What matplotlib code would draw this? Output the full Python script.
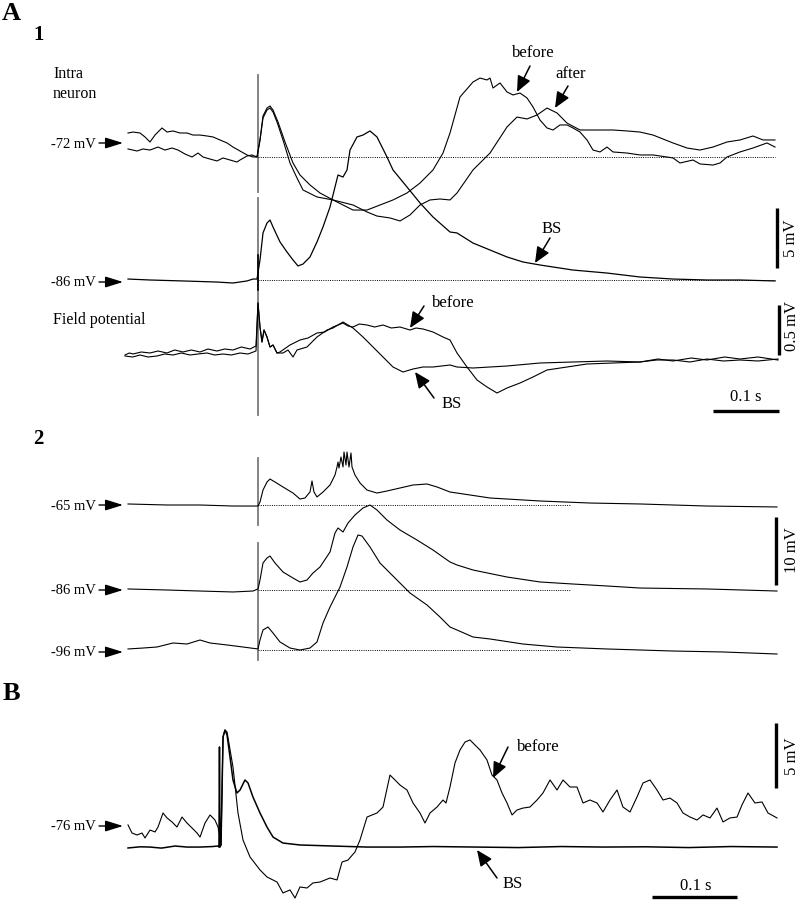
import numpy as np
import matplotlib
matplotlib.use('Agg')
import matplotlib.pyplot as plt

plt.rcParams['font.family'] = ['Liberation Serif', 'DejaVu Serif']

# ---- data: (time ms from stimulus, deflection from resting level) ----
# A1 intracellular, rest -72 mV (mV)
a1_before = [(-195, 0.67), (-181.5, 0.5), (-172.5, 0.67), (-162, 0.58), (-150, 0.83), (-139.5, 0.58),
             (-129, 0.75), (-120, 0.58), (-109.5, 0.25), (-99, 0), (-90, 0.33), (-82.5, 0), (-72, -0.17),
             (-61.5, -0.33), (-52.5, -0.08), (-42, -0.25), (-31.5, -0.42), (-27, -0.25), (-16.5, 0.08),
             (-9, 0.17), (-1.5, 0), (3, 1.42), (7.5, 3.25), (13.5, 3.92), (18, 4.08), (22.5, 3.75),
             (28.5, 2.92), (37.5, 1.42), (48, -0.5), (58.5, -1.75), (67.5, -2.75), (88.5, -3.33),
             (112.5, -3.58), (142.5, -4.42), (163.5, -4.42), (183, -4.0), (202.5, -3.58), (223.5, -3.0),
             (243, -2.17), (262.5, -1.08), (277.5, 0.33), (288, 2.0), (303, 5.0), (322.5, 6.25),
             (333, 6.58), (343.5, 6.42), (348, 6.58), (352.5, 5.75), (363, 6.17), (373.5, 5.42),
             (382.5, 5.17), (393, 5.33), (403.5, 4.92), (412.5, 4.17), (423, 3.08), (433.5, 2.42),
             (442.5, 2.25), (453, 2.67), (463.5, 2.67), (472.5, 2.42), (483, 2.08), (493.5, 1.42),
             (502.5, 0.58), (513, 0.42), (523.5, 0.83), (532.5, 0.42), (553.5, 0.33), (573, 0.17),
             (592.5, 0.17), (613.5, 0), (622.5, -0.08), (633, -0.5), (652.5, -0.25), (663, -0.58),
             (682.5, -0.67), (693, -0.5), (703.5, 0), (723, 0.42), (742.5, 0.75), (763.5, 1.17),
             (775.5, 0.83)]
a1_after = [(-195, 2.0), (-187.5, 2.08), (-177, 2.0), (-169.5, 1.67), (-162, 1.25), (-154.5, 1.83),
            (-144, 2.42), (-136.5, 2.08), (-127.5, 2.17), (-117, 2.0), (-106.5, 2.0), (-97.5, 1.83),
            (-87, 1.83), (-76.5, 1.75), (-67.5, 1.67), (-57, 1.42), (-46.5, 1.17), (-37.5, 0.83),
            (-27, 0.5), (-16.5, 0.17), (-7.5, 0), (-1.5, 0), (3, 1.42), (7.5, 3.42), (13.5, 4.08),
            (18, 4.25), (22.5, 3.92), (30, 2.92), (40.5, 1.25), (52.5, -0.5), (63, -1.5), (78, -2.33),
            (93, -3.0), (112.5, -3.58), (142.5, -4.0), (163.5, -4.58), (178.5, -4.92), (198, -5.08),
            (213, -5.33), (228, -4.83), (243, -4.0), (258, -3.58), (273, -3.5), (288, -3.58),
            (298.5, -3.0), (322.5, -1.08), (348, 0.33), (373.5, 2.5), (388.5, 3.33), (403.5, 3.17),
            (418.5, 3.5), (433.5, 4.08), (448.5, 3.67), (463.5, 2.83), (483, 2.25), (513, 2.25),
            (532.5, 2.25), (553.5, 2.17), (573, 2.08), (592.5, 1.83), (622.5, 1.17), (643.5, 0.75),
            (663, 0.58), (682.5, 0.83), (703.5, 1.25), (723, 1.42), (742.5, 1.75), (757.5, 1.42),
            (775.5, 1.42)]
# A1 intracellular under BS, rest -86 mV
a1_bs = [(-195, 0.08), (-162, 0), (-112.5, -0.08), (-61.5, -0.17), (-37.5, -0.25), (-16.5, -0.08),
         (-7.5, 0.08), (-1.5, 0.08), (3, 1.67), (7.5, 3.92), (13.5, 4.75), (18, 5.0), (22.5, 4.42),
         (33, 3.17), (43.5, 2.33), (52.5, 1.67), (60, 1.17), (67.5, 1.33), (78, 1.92), (88.5, 3.17),
         (97.5, 4.42), (108, 6.08), (115.5, 7.75), (120, 8.75), (127.5, 8.58), (133.5, 9.17),
         (138, 10.83), (148.5, 11.92), (157.5, 12.08), (168, 12.42), (178.5, 11.92), (193.5, 10.25),
         (202.5, 9.17), (223.5, 7.75), (243, 6.42), (262.5, 5.25), (288, 4.0), (298.5, 3.92),
         (322.5, 3.08), (348, 2.5), (373.5, 1.92), (397.5, 1.5), (423, 1.25), (472.5, 0.83),
         (523.5, 0.58), (573, 0.25), (622.5, 0.08), (673.5, 0), (723, 0), (775.5, -0.08)]
# A1 field potential (mV)
field_artifact = [(0, 0.49), (3, 0.25), (6, 0.10), (9, 0.22), (13.5, 0.15), (18, 0.05),
                  (22.5, 0.07), (28.5, -0.01)]
field_before = [(-199.5, -0.03), (-193, -0.01), (-187.5, -0.02), (-175, 0.0), (-162, -0.01),
                (-150, 0.01), (-136.5, -0.01), (-125, 0.02), (-112.5, 0.0), (-100, 0.02), (-87, 0.0),
                (-75, 0.03), (-61.5, 0.01), (-50, 0.03), (-37.5, 0.02), (-25, 0.05), (-12, 0.03),
                (-3, 0.06)] + field_artifact + \
               [(33, 0), (48, 0.07), (63, 0.12), (75, 0.14), (88.5, 0.19), (100, 0.2), (112.5, 0.25),
                (127.5, 0.29), (135, 0.26), (142.5, 0.25), (152, 0.28), (163.5, 0.27), (175, 0.25),
                (187.5, 0.27), (200, 0.24), (213, 0.25), (228, 0.22), (237, 0.24), (247.5, 0.23),
                (262.5, 0.2), (277.5, 0.15), (288, 0.12), (298.5, -0.01), (313.5, -0.15),
                (328.5, -0.28), (343.5, -0.35), (358.5, -0.41), (373.5, -0.36), (393, -0.31),
                (412.5, -0.25), (433.5, -0.18), (463.5, -0.15), (493.5, -0.12), (532.5, -0.11),
                (573, -0.10), (600, -0.07), (622.5, -0.09), (650, -0.06), (673.5, -0.08),
                (700, -0.05), (723, -0.07), (750, -0.05), (780, -0.08)]
field_bs = [(-199.5, -0.04), (-188, -0.05), (-177, -0.03), (-165, -0.05), (-151.5, -0.04),
            (-140, -0.02), (-127.5, -0.03), (-115, -0.01), (-102, -0.03), (-90, -0.02), (-76.5, -0.01),
            (-65, -0.03), (-52.5, -0.02), (-40, -0.03), (-27, -0.01), (-15, -0.02), (-3, 0.01)] + \
           field_artifact + \
           [(37.5, -0.01), (45, 0.02), (52.5, -0.05), (58.5, 0.02), (73.5, 0.05), (88.5, 0.15),
            (103.5, 0.22), (112.5, 0.24), (127.5, 0.30), (142.5, 0.24), (157.5, 0.15), (172.5, 0.05),
            (187.5, -0.05), (202.5, -0.15), (217.5, -0.20), (232.5, -0.17), (247.5, -0.15),
            (262.5, -0.15), (288, -0.13), (298.5, -0.15), (322.5, -0.16), (348, -0.15),
            (373.5, -0.14), (423, -0.11), (472.5, -0.10), (523.5, -0.09), (573, -0.10),
            (598, -0.08), (622.5, -0.08), (648, -0.10), (673.5, -0.07), (698, -0.09), (723, -0.08),
            (750, -0.09), (780, -0.07)]

# A2 intracellular at three holding levels
a2_m65 = [(-195, 0.15), (-136.5, 0), (-87, 0), (-37.5, -0.15), (0, -0.15), (3, 0.44), (7.5, 2.2),
          (13.5, 3.38), (18, 3.82), (25.5, 3.38), (37.5, 2.65), (52.5, 1.76), (63, 0.88), (70.5, 1.03),
          (78, 1.91), (81, 3.53), (84, 1.91), (88.5, 1.18), (97.5, 1.91), (108, 2.94), (115.5, 4.41),
          (118.5, 5.59), (120, 6.32), (121.5, 5.44), (124.5, 7.06), (127.5, 5.59), (129, 7.79),
          (132, 5.88), (133.5, 7.79), (136.5, 5.59), (139.5, 7.65), (141, 5.59), (145.5, 4.41),
          (153, 3.24), (163.5, 2.2), (178.5, 1.76), (193.5, 2.06), (213, 2.5), (232.5, 2.94),
          (253.5, 3.09), (268.5, 2.65), (288, 1.91), (298.5, 1.76), (348, 1.03), (423, 0.59),
          (498, 0.29), (573, 0.15), (673.5, -0.15), (778.5, -0.29)]
a2_m86 = [(-195, 0.15), (-136.5, 0), (-87, -0.15), (-37.5, -0.29), (-7.5, -0.15), (0, 0.15), (3, 1.47),
          (7.5, 3.97), (13.5, 4.71), (18, 5.0), (25.5, 3.97), (37.5, 2.65), (52.5, 1.76), (63, 1.18),
          (73.5, 1.47), (82.5, 2.5), (93, 3.38), (108, 5.59), (115.5, 8.38), (120, 9.12), (127.5, 8.53),
          (135, 9.85), (145.5, 11.03), (157.5, 12.06), (168, 12.5), (178.5, 11.76), (193.5, 10.29),
          (213, 8.82), (238.5, 7.35), (262.5, 5.88), (288, 4.12), (298.5, 3.68), (322.5, 2.94),
          (373.5, 1.91), (423, 1.18), (472.5, 0.88), (523.5, 0.59), (573, 0.29), (673.5, 0.15),
          (778.5, -0.15)]
a2_m96 = [(-195, 0.15), (-172.5, 0.29), (-151.5, 0.44), (-127.5, 1.03), (-106.5, 0.88), (-87, 1.47),
          (-72, 1.03), (-46.5, 0.74), (-22.5, 0.44), (0, 0.15), (3, 1.47), (7.5, 2.94), (15, 3.38),
          (22.5, 2.5), (33, 1.18), (48, 0.29), (63, 0), (78, 0.29), (88.5, 1.18), (97.5, 3.97),
          (108, 6.32), (123, 9.26), (133.5, 12.21), (142.5, 15.15), (150, 16.91), (156, 16.76),
          (168, 15.15), (183, 12.79), (198, 11.32), (208.5, 10.29), (228, 8.38), (253.5, 6.62),
          (273, 4.85), (288, 3.38), (298.5, 2.94), (322.5, 1.91), (348, 1.62), (397.5, 0.88),
          (448.5, 0.44), (523.5, 0.15), (622.5, -0.15), (697.5, -0.29), (778.5, -0.59)]

# B intracellular, rest -76 mV
b_before = [(-109.4, 0.08), (-104.7, -0.54), (-98.8, -0.69), (-92.9, -0.54), (-89.4, -0.92),
            (-83.5, -0.31), (-77.6, -0.46), (-74.1, -0.08), (-68.2, 1.0), (-63.5, 0.62), (-57.6, 0.31),
            (-51.8, -0.08), (-45.9, 0.69), (-40, 0.23), (-34.1, -0.15), (-28.2, -0.54), (-24.7, -0.85),
            (-18.8, 0.23), (-12.9, 0.85), (-7.1, 0.46), (-3.5, -0.08), (-1.2, -0.85), (0, -1.46),
            (2.4, 6.85), (4.7, 7.38), (7.1, 7.23), (14.1, 4.54), (20, 1.0), (25.9, -1.08), (34.1, -2.38),
            (45.9, -3.38), (54.1, -3.92), (65.9, -4.31), (72.9, -5.15), (81.2, -4.92), (87.1, -5.54),
            (92.9, -4.69), (101.2, -4.77), (108.2, -4.38), (116.5, -4.31), (128.2, -4.0), (136.5, -4.15),
            (142.4, -2.77), (149.4, -2.62), (157.6, -2.0), (163.5, -1.08), (171.8, 0.69), (183.5, 1.0),
            (190.6, 1.46), (198.8, 3.92), (204.7, 3.54), (210.6, 3.15), (218.8, 2.77), (225.9, 1.77),
            (234.1, 1.0), (240, 0.23), (245.9, 1.0), (254.1, 1.46), (261.2, 2.0), (264.7, 1.77),
            (269.4, 3.0), (275.3, 4.85), (281.2, 5.85), (287.1, 6.46), (292.9, 6.62), (298.8, 6.23),
            (304.7, 5.85), (312.9, 5.08), (318.8, 3.92), (324.7, 3.54), (330.6, 2.54), (336.5, 1.77),
            (342.4, 0.85), (348.2, 1.23), (355.3, 1.38), (363.5, 1.46), (371.8, 2.0), (378.8, 2.54),
            (387.1, 3.54), (395.3, 2.77), (402.4, 3.54), (410.6, 3.0), (418.8, 3.0), (425.9, 1.77),
            (434.1, 2.0), (442.4, 1.77), (449.4, 1.08), (457.6, 2.0), (465.9, 2.77), (472.9, 1.46),
            (481.2, 1.08), (489.4, 2.23), (496.5, 3.31), (504.7, 3.54), (512.9, 2.77), (520, 2.0),
            (528.2, 2.15), (536.5, 1.77), (543.5, 1.0), (551.8, 0.69), (560, 0.46), (567.1, 0.85),
            (575.3, 0.62), (583.5, 1.38), (590.6, 0.31), (598.8, 0.62), (607.1, 0.69), (612.9, 1.62),
            (620, 2.54), (628.2, 1.77), (636.5, 1.85), (643.5, 1.0), (654.1, 0.62)]
b_bs = [(-109.4, -1.69), (-95, -1.6), (-83.5, -1.62), (-70, -1.7), (-54.1, -1.54), (-40, -1.62),
        (-24.7, -1.62), (-10, -1.58), (-3.5, -1.54), (-2.4, -1.62), (-1.8, 6.08), (-1.2, -1.62),
        (0, -1.46), (2.4, 6.85), (4.7, 7.38), (7.1, 7.0), (10.6, 5.31), (14.1, 3.54), (18.8, 2.54),
        (22.4, 2.77), (28.2, 3.54), (31.8, 3.31), (37.6, 2.23), (45.9, 1.0), (54.1, -0.08),
        (61.2, -0.85), (72.9, -1.31), (92.9, -1.46), (131.8, -1.54), (171.8, -1.62), (210.6, -1.62),
        (250, -1.58), (300, -1.62), (350, -1.66), (400, -1.58), (450, -1.62), (500, -1.6),
        (550, -1.66), (600, -1.58), (654.1, -1.62)]

W, H = 799, 900
fig = plt.figure(figsize=(7.99, 9), dpi=100)

# layout axes in pixel units for labels
lay = fig.add_axes([0, 0, 1, 1])
lay.set_xlim(0, W)
lay.set_ylim(H, 0)
lay.axis('off')


def overlay(t0_px, px_per_ms, base_px, px_per_unit):
    # transparent full-figure axes: x in ms, y in mV from rest
    ax = fig.add_axes([0, 0, 1, 1])
    ax.set_xlim(-t0_px / px_per_ms, (W - t0_px) / px_per_ms)
    ax.set_ylim((base_px - H) / px_per_unit, base_px / px_per_unit)
    ax.axis('off')
    ax.patch.set_alpha(0)
    return ax


def trace(ax, data, lw=0.8):
    t, v = np.array(data).T
    ax.plot(t, v, color='black', lw=lw, solid_joinstyle='round')


dotted = dict(color='black', lw=0.7, ls=(0, (1, 1.3)))
stim = dict(color='#7a7a7a', lw=1.3)
bar = dict(color='black', lw=2.4, solid_capstyle='butt')

# ---- A1 ----
ax_top = overlay(258, 1 / 1.5, 157, 12)
ax_bs = overlay(258, 1 / 1.5, 280, 12)
ax_fp = overlay(258, 1 / 1.5, 352, 100)
ax_top.plot([0, 0], [6.83, -2.92], **stim)
ax_top.plot([0, 0], [-3.42, -21.5], **stim)
ax_bs.plot([0, 0], [2.08, -0.83], color='black', lw=1.2)
ax_top.plot([0, 775.5], [0, 0], **dotted)
ax_bs.plot([0, 775.5], [0, 0], **dotted)
trace(ax_top, a1_before)
trace(ax_top, a1_after)
trace(ax_bs, a1_bs, lw=0.9)
trace(ax_fp, field_before)
trace(ax_fp, field_bs)
ax_bs.plot([778.5, 778.5], [1, 6], **bar)
ax_fp.plot([781.5, 781.5], [-0.03, 0.47], **bar)
ax_fp.plot([682, 782], [-0.59, -0.59], **bar)

# ---- A2 ----
ax_65 = overlay(258, 1 / 1.5, 505, 6.8)
ax_86 = overlay(258, 1 / 1.5, 590, 6.8)
ax_96 = overlay(258, 1 / 1.5, 650, 6.8)
ax_65.plot([0, 0], [6.91, -2.94], **stim)
ax_86.plot([0, 0], [6.91, -10.3], **stim)
for ax, d in [(ax_65, a2_m65), (ax_86, a2_m86), (ax_96, a2_m96)]:
    ax.plot([0, 468], [0, 0], **dotted)
    trace(ax, d)
ax_86.plot([777, 777], [0.7, 10.7], **bar)

# ---- B ----
ax_b = overlay(221, 0.85, 826, 13)
trace(ax_b, b_before)
trace(ax_b, b_bs, lw=1.1)
ax_b.plot([653, 653], [2.92, 7.92], **bar)
ax_b.plot([507, 607], [-5.46, -5.46], **bar)

# ---- labels ----
serif = dict(color='black')
lay.text(2, 14, 'A', fontsize=19, fontweight='bold', va='center', ha='left')
lay.text(33, 35, '1', fontsize=15, fontweight='bold', va='center', ha='left')
lay.text(33, 439, '2', fontsize=15, fontweight='bold', va='center', ha='left')
lay.text(3, 694, 'B', fontsize=19, fontweight='bold', va='center', ha='left')
lay.text(53, 74, 'Intra', fontsize=11.5, va='center', ha='left')
lay.text(53, 94, 'neuron', fontsize=11.5, va='center', ha='left')
lay.text(53, 320, 'Field potential', fontsize=11.5, va='center', ha='left')

arrow_small = dict(arrowstyle='-|>,head_length=0.9,head_width=0.28', color='black', lw=1.0,
                   shrinkA=0, shrinkB=0, mutation_scale=12)
for lbl, y in [('-72 mV', 143), ('-86 mV', 282), ('-65 mV', 505), ('-86 mV', 590),
               ('-96 mV', 652), ('-76 mV', 826)]:
    lay.text(96, y + 1, lbl, fontsize=10.5, va='center', ha='right')
    lay.annotate('', xy=(123, y), xytext=(99, y), arrowprops=arrow_small)

arrow_lbl = dict(arrowstyle='-|>,head_length=0.8,head_width=0.35', color='black', lw=1.1,
                 shrinkA=0, shrinkB=0, mutation_scale=12)
notes = [('before', 512, 53, (530, 66), (517, 92)),
         ('after', 555, 74, (568, 86), (555, 108)),
         ('BS', 542, 229, (550, 238), (535, 263)),
         ('before', 432, 303, (424, 306), (410, 328)),
         ('BS', 442, 404, (434, 398), (415, 372)),
         ('before', 517, 747, (508, 747), (493, 778)),
         ('BS', 503, 884, (497, 878), (477, 850))]
for txt, x, y, tail, tip in notes:
    lay.text(x, y, txt, fontsize=12, va='center', ha='left')
    lay.annotate('', xy=tip, xytext=tail, arrowprops=arrow_lbl)

lay.text(791, 238, '5 mV', fontsize=12, rotation=90, va='center', ha='center')
lay.text(792, 326, '0.5 mV', fontsize=12, rotation=90, va='center', ha='center')
lay.text(746, 397, '0.1 s', fontsize=12, va='center', ha='center')
lay.text(792, 550, '10 mV', fontsize=12, rotation=90, va='center', ha='center')
lay.text(792, 756, '5 mV', fontsize=12, rotation=90, va='center', ha='center')
lay.text(696, 886, '0.1 s', fontsize=12, va='center', ha='center')

fig.savefig('out.png', dpi=100)
